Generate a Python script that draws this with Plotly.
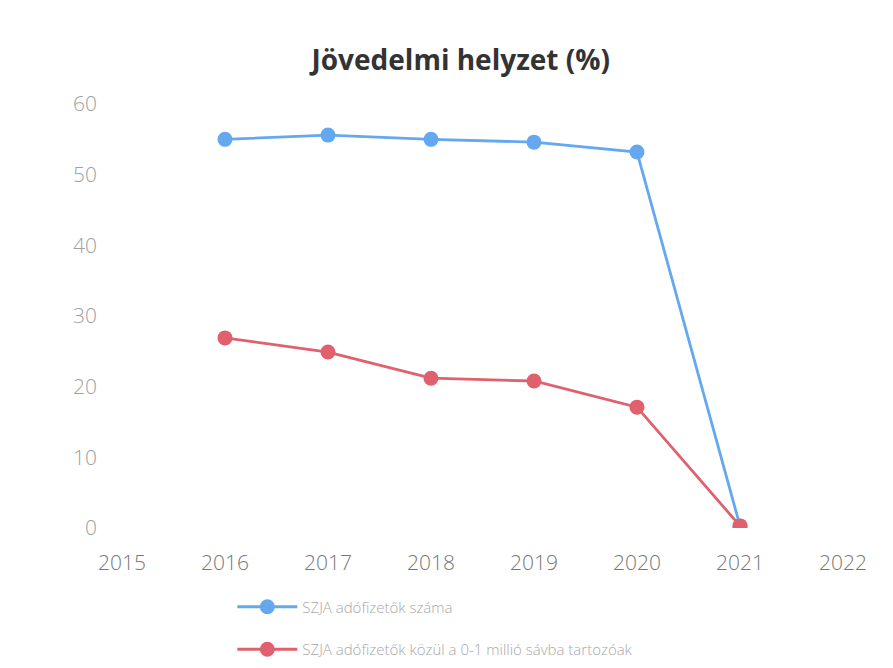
import plotly.graph_objects as go

years = [2016, 2017, 2018, 2019, 2020, 2021]
szja_count = [55.0, 55.6, 55.0, 54.6, 53.2, 0.3]
szja_low = [26.9, 24.9, 21.2, 20.8, 17.1, 0.3]
series_names = ["SZJA adófizetők száma", "SZJA adófizetők közül a 0-1 millió sávba tartozóak"]
x_ticks = [2015, 2016, 2017, 2018, 2019, 2020, 2021, 2022]
y_ticks = [0, 10, 20, 30, 40, 50, 60]

fig = go.Figure()
fig.add_trace(go.Scatter(x=years, y=szja_count, name=series_names[0], mode="lines+markers",
                         line=dict(color="#64a8f0", width=2.8), marker=dict(size=15, color="#64a8f0"),
                         legendgroup="a"))
fig.add_trace(go.Scatter(x=years, y=szja_low, name=series_names[1], mode="lines+markers",
                         line=dict(color="#e0606e", width=2.8), marker=dict(size=15, color="#e0606e"),
                         legendgroup="b"))

fig.update_layout(
    width=893, height=668,
    paper_bgcolor="white", plot_bgcolor="white",
    margin=dict(l=114, r=58, t=96, b=148),
    title=dict(text="<b>Jövedelmi helyzet (%)</b>", x=0.507, xanchor="center", y=0.922, yanchor="middle",
               font=dict(family="Open Sans", size=28, color="#333333")),
    xaxis=dict(range=[2015, 2022], tickvals=x_ticks, showgrid=False, zeroline=False, showline=False,
               tickfont=dict(family="Open Sans", size=21, color="#777777", weight=300), ticks="",
               ticklabelstandoff=20),
    yaxis=dict(range=[0, 60], tickvals=y_ticks, showgrid=False, zeroline=False, showline=False,
               tickfont=dict(family="Open Sans", size=21, color="#a0a0a0", weight=300), ticks="",
               ticklabelstandoff=24),
    showlegend=True,
    legend=dict(orientation="v", x=0.153, y=0.128, xanchor="left", yanchor="top",
                yref="container", itemwidth=60,
                traceorder="grouped", tracegroupgap=20,
                font=dict(family="Open Sans", size=15, color="#a8a8a8", weight=300)),
)
fig.write_html("out.html")
